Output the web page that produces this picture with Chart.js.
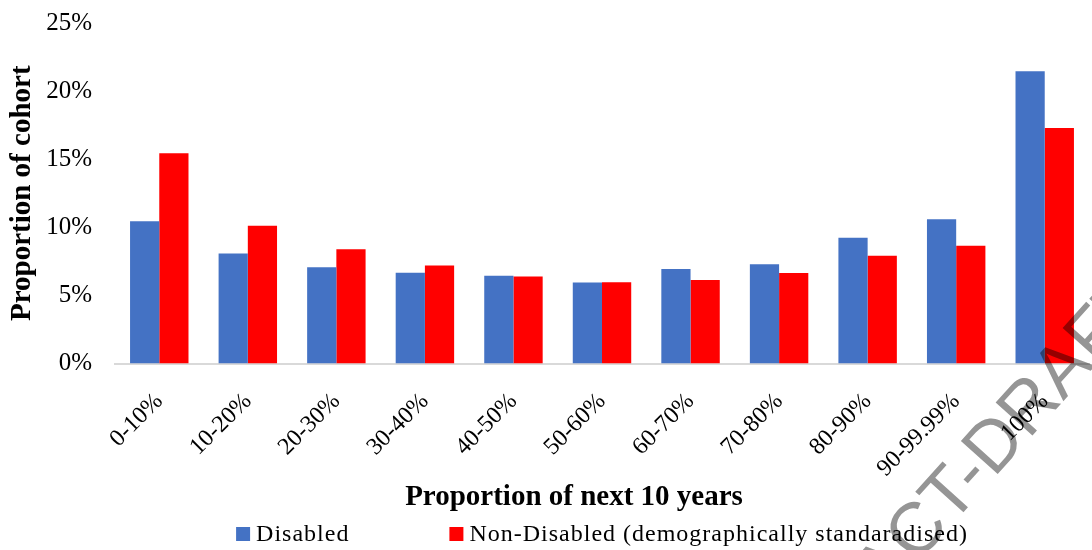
<!DOCTYPE html>
<html lang="en">
<head>
    <meta charset="UTF-8">
    <title>Proportion of next 10 years</title>
    <script src="https://cdn.jsdelivr.net/npm/chart.js"></script>
    <style>
        body { margin: 0; background: #fff; }
        #wrap { width: 1092px; height: 550px; position: relative; }
    </style>
</head>
<body>
    <div id="wrap"><canvas id="cohortChart"></canvas></div>

    <script>
        // Share of cohort by proportion of the next 10 years
        const categories = ['0-10%', '10-20%', '20-30%', '30-40%', '40-50%', '50-60%',
            '60-70%', '70-80%', '80-90%', '90-99.99%', '100%'];
        const disabled = [10.45, 8.07, 7.06, 6.67, 6.45, 5.94, 6.94, 7.28, 9.24, 10.6, 21.46];
        const nonDisabled = [15.43, 10.12, 8.38, 7.19, 6.38, 5.97, 6.13, 6.65, 7.92, 8.65, 17.29];
        const yTickValues = [0, 5, 10, 15, 20, 25];

        const serif = '"Liberation Serif", "Times New Roman", serif';

        // legend, x-axis title and the watermark are drawn after the chart
        const extras = {
            id: 'extras',
            afterDraw(chart) {
                const ctx = chart.ctx;
                const area = chart.chartArea;
                const mid = (area.left + area.right) / 2;

                // x-axis title
                ctx.save();
                ctx.fillStyle = '#000';
                ctx.font = 'bold 29px ' + serif;
                ctx.textAlign = 'center';
                ctx.textBaseline = 'alphabetic';
                ctx.fillText('Proportion of next 10 years', mid - 28, 505);
                ctx.restore();

                // legend
                ctx.save();
                ctx.font = '24px ' + serif;
                ctx.letterSpacing = '1px';
                ctx.textBaseline = 'alphabetic';
                ctx.textAlign = 'left';
                const box = 14, gap = 6, itemGap = 100;
                const items = chart.data.datasets.map(ds => ({
                    text: ds.label, color: ds.backgroundColor,
                    w: ctx.measureText(ds.label).width
                }));
                let total = items.reduce((s, it) => s + box + gap + it.w, 0) + itemGap * (items.length - 1);
                let x = mid - total / 2;
                items.forEach(it => {
                    ctx.fillStyle = it.color;
                    ctx.fillRect(x, 527, box, box);
                    ctx.fillStyle = '#000';
                    ctx.fillText(it.text, x + box + gap, 541);
                    x += box + gap + it.w + itemGap;
                });
                ctx.restore();

                // watermark
                ctx.save();
                ctx.globalCompositeOperation = 'multiply';
                ctx.fillStyle = '#959595';
                ctx.font = '72px "Liberation Sans", Arial, sans-serif';
                ctx.textAlign = 'left';
                ctx.textBaseline = 'alphabetic';
                const prefix = 'CONTRACT-';
                const p = ctx.measureText(prefix).width;
                const d = ctx.measureText('D').width;
                ctx.translate(992, 442);
                ctx.rotate(-48 * Math.PI / 180);
                ctx.fillText('CONTRACT-DRAFT', -(p + d / 2), 72 * 0.716 / 2);
                ctx.restore();
            }
        };

        new Chart(document.getElementById('cohortChart'), {
            type: 'bar',
            data: {
                labels: categories,
                datasets: [
                    {
                        label: 'Disabled',
                        data: disabled,
                        backgroundColor: '#4472C4',
                        categoryPercentage: 0.66,
                        barPercentage: 1.0
                    },
                    {
                        label: 'Non-Disabled (demographically standaradised)',
                        data: nonDisabled,
                        backgroundColor: '#FF0000',
                        categoryPercentage: 0.66,
                        barPercentage: 1.0
                    }
                ]
            },
            options: {
                responsive: true,
                maintainAspectRatio: false,
                animation: false,
                layout: { padding: { top: 23, right: 3, bottom: 0, left: 0 } },
                plugins: {
                    legend: { display: false },
                    tooltip: { enabled: false }
                },
                scales: {
                    x: {
                        grid: { display: false, drawTicks: false },
                        border: { display: true, color: '#d9d9d9', width: 2 },
                        ticks: {
                            color: '#000',
                            font: { family: serif, size: 24 },
                            maxRotation: 45,
                            minRotation: 45,
                            autoSkip: false,
                            padding: 24
                        },
                        afterFit(scale) { scale.height = 186.5; }
                    },
                    y: {
                        min: 0,
                        max: 25,
                        grid: { display: false, drawTicks: false },
                        border: { display: false },
                        afterBuildTicks(scale) {
                            scale.ticks = yTickValues.map(v => ({ value: v }));
                        },
                        ticks: {
                            color: '#000',
                            font: { family: serif, size: 25 },
                            padding: 23,
                            callback: v => v + '%'
                        },
                        title: {
                            display: true,
                            text: 'Proportion of cohort',
                            color: '#000',
                            font: { family: serif, size: 29, weight: 'bold' },
                            padding: { top: 5, bottom: 0 }
                        },
                        afterFit(scale) {
                            scale.width = 115;
                            // top/bottom label room comes from layout padding instead
                            scale.paddingTop = 0;
                            scale.paddingBottom = 0;
                        }
                    }
                }
            },
            plugins: [extras]
        });
    </script>
</body>
</html>
